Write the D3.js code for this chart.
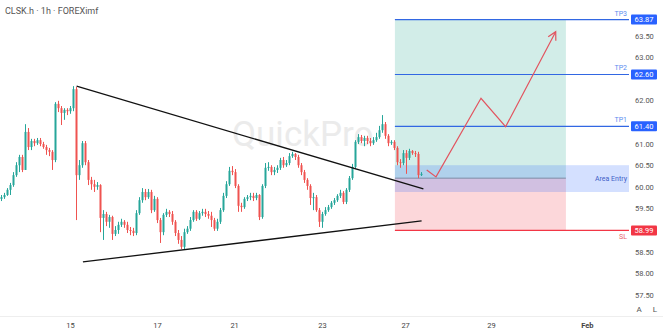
<!DOCTYPE html>
<html><head><meta charset="utf-8">
<script src="https://cdn.jsdelivr.net/npm/d3@7"></script>
<style>
html,body{margin:0;padding:0;background:#fff;}
svg{display:block;font-family:Roboto,"Noto Sans",sans-serif;}
</style></head>
<body><svg id="c" width="663" height="336"></svg>
<script>
// ---- data ----
const title = "CLSK.h · 1h · FOREXimf";
const firstOpen = 59.72;
const closes = [59.76,59.81,59.93,60.04,60.27,60.50,60.69,60.39,61.27,60.92,61.06,61.01,61.08,60.99,60.92,60.85,60.81,60.62,61.92,61.82,61.71,61.78,61.75,61.82,62.26,60.27,60.50,61.01,60.57,60.16,60.06,60.00,60.04,59.28,59.37,59.19,59.30,58.91,59.00,59.12,59.19,59.12,59.00,58.98,58.93,59.39,59.69,59.88,59.76,59.88,59.46,59.72,59.23,58.95,59.35,59.42,59.37,59.19,58.93,58.77,58.61,58.95,59.03,59.23,59.42,59.26,59.39,59.42,59.37,59.33,59.23,59.03,59.19,59.46,59.79,60.06,60.37,60.34,60.02,59.56,59.53,59.72,59.76,59.79,59.74,59.81,59.30,60.02,60.44,60.46,60.34,60.39,60.44,60.62,60.50,60.55,60.71,60.76,60.69,60.50,60.34,60.16,60.02,59.74,59.76,59.46,59.19,59.37,59.46,59.53,59.63,59.69,59.79,59.86,59.65,59.93,60.20,60.46,61.04,61.15,61.06,61.13,61.06,61.01,61.08,61.15,61.31,61.45,61.18,61.01,61.04,60.90,60.57,60.55,60.78,60.67,60.83,60.78,60.76,60.27,60.30];
const highs = [59.81,59.86,59.97,60.09,60.34,60.57,60.74,60.74,61.45,61.36,61.11,61.11,61.13,61.13,61.04,60.97,60.90,60.85,61.96,61.99,61.87,61.82,61.82,61.87,62.33,62.31,60.62,61.06,61.06,60.62,60.23,60.16,60.11,60.06,59.46,59.42,59.35,59.33,59.09,59.19,59.26,59.23,59.19,59.07,59.05,59.46,59.76,59.97,59.95,59.95,59.93,59.79,59.76,59.28,59.39,59.49,59.46,59.44,59.23,59.00,58.86,59.03,59.09,59.30,59.46,59.46,59.44,59.49,59.49,59.44,59.42,59.28,59.26,59.51,59.86,60.13,60.46,60.48,60.41,60.06,59.63,59.76,59.81,59.86,59.86,59.86,59.83,60.06,60.55,60.57,60.50,60.46,60.50,60.67,60.69,60.62,60.78,60.81,60.78,60.74,60.55,60.39,60.20,60.06,59.86,59.81,59.51,59.42,59.53,59.58,59.67,59.74,59.83,59.93,59.90,59.97,60.25,60.53,61.08,61.22,61.20,61.18,61.18,61.13,61.15,61.25,61.41,61.66,61.50,61.22,61.08,61.08,60.94,60.64,60.85,60.85,60.88,60.85,60.83,60.81,60.34];
const lows = [59.67,59.72,59.79,59.81,60.00,60.23,60.34,60.34,60.39,60.85,60.85,60.94,60.97,60.94,60.88,60.74,60.71,60.39,60.57,61.73,61.43,61.55,61.66,61.69,61.75,59.23,60.16,60.44,60.50,60.04,59.93,59.88,59.93,58.95,58.77,59.09,59.05,58.77,58.86,58.91,59.07,59.05,58.93,58.88,58.86,58.88,59.35,59.63,59.69,59.72,59.39,59.42,59.16,58.70,58.88,59.30,59.30,59.12,58.86,58.68,58.56,58.56,58.91,58.98,59.19,59.21,59.23,59.33,59.30,59.26,59.07,58.98,58.98,59.14,59.42,59.74,60.02,60.27,59.97,59.42,59.42,59.49,59.67,59.69,59.67,59.69,59.23,59.26,59.97,60.37,60.27,60.27,60.32,60.39,60.44,60.46,60.50,60.67,60.62,60.44,60.27,60.09,59.93,59.58,59.46,59.42,59.07,59.05,59.33,59.42,59.49,59.58,59.65,59.74,59.60,59.60,59.88,60.16,60.41,60.99,61.01,60.94,60.99,60.94,60.97,61.04,61.11,61.25,61.11,60.94,60.97,60.85,60.50,60.44,60.50,60.30,60.62,60.74,60.69,60.20,60.25];

const priceTicks = [57.5,58,58.5,59,59.5,60,60.5,61,61.5,62,62.5,63,63.5,64];
const dayTickPos = [23,52,77.7,107,134.7,163.3,195.3];
const dayTickLabels = ["15","17","21","23","27","29","Feb"];

const tpLevels = [63.87,62.60,61.40];
const tpNames = ["TP3","TP2","TP1"];
const slLevel = 58.99;
const entryLevel = 60.20;
const entryBand = [60.50,59.88];
const zoneBars = [131.3,188.3];
const pathBars = [141.9,145,160,168.2,184.9];
const pathPrices = [60.39,60.23,62.05,61.39,63.59];
const upperLine = {bars:[25.2,140.8], prices:[62.33,59.95]};
const lowerLine = {bars:[27.3,140.2], prices:[58.26,59.21]};

// ---- scales ----
const svg = d3.select("#c");
const W = 663, H = 336;
const x = d3.scaleLinear().domain([0,140]).range([1,421]);
const y = d3.scaleLinear().domain([57.5,64]).range([294.8,14]);
const plotRight = 629;

const bars = closes.map((c,i)=>({i, o: i===0?firstOpen:closes[i-1], c, h: highs[i], l: lows[i]}));

svg.append("defs").append("clipPath").attr("id","pane")
  .append("rect").attr("x",0).attr("y",0).attr("width",plotRight).attr("height",316);

const pane = svg.append("g").attr("clip-path","url(#pane)");

// watermark
pane.append("text").attr("x",232).attr("y",146).attr("font-size",35)
  .attr("fill","#ebebeb").text("QuickPro");

// zones
const zx0 = x(zoneBars[0]), zx1 = x(zoneBars[1]);
pane.append("rect").attr("x",zx0).attr("y",y(tpLevels[0])).attr("width",zx1-zx0)
  .attr("height",y(entryLevel)-y(tpLevels[0])).attr("fill","rgba(8,153,129,0.18)");
pane.append("rect").attr("x",zx0).attr("y",y(entryLevel)).attr("width",zx1-zx0)
  .attr("height",y(slLevel)-y(entryLevel)).attr("fill","rgba(242,54,69,0.2)");
pane.append("rect").attr("x",zx0).attr("y",y(entryBand[0])).attr("width",plotRight-zx0)
  .attr("height",y(entryBand[1])-y(entryBand[0])).attr("fill","rgba(41,98,255,0.2)");
pane.append("line").attr("x1",zx0).attr("x2",zx1).attr("y1",y(entryLevel)).attr("y2",y(entryLevel))
  .attr("stroke","#7d8ca6").attr("stroke-width",1);

// candles
const cg = pane.append("g");
bars.forEach(b=>{
  const col = b.c >= b.o ? "#26a69a" : "#ef5350";
  const cx = Math.round(x(b.i));
  cg.append("line").attr("x1",cx+0.5).attr("x2",cx+0.5).attr("y1",y(b.h)).attr("y2",y(b.l))
    .attr("stroke",col).attr("stroke-width",1);
  const top = y(Math.max(b.o,b.c)), bot = y(Math.min(b.o,b.c));
  cg.append("rect").attr("x",cx-0.5).attr("y",top).attr("width",2)
    .attr("height",Math.max(1,bot-top)).attr("fill",col);
});

// TP & SL lines
tpLevels.forEach((v,k)=>{
  pane.append("line").attr("x1",zx0).attr("x2",plotRight).attr("y1",y(v)).attr("y2",y(v))
    .attr("stroke","#3267e3").attr("stroke-width",1.2);
  pane.append("text").attr("x",627).attr("y",y(v)-4).attr("text-anchor","end")
    .attr("font-size",7).attr("fill","#5b8def").text(tpNames[k]);
});
pane.append("line").attr("x1",zx0).attr("x2",plotRight).attr("y1",y(slLevel)).attr("y2",y(slLevel))
  .attr("stroke","#f23645").attr("stroke-width",1.2);
pane.append("text").attr("x",627).attr("y",y(slLevel)+9).attr("text-anchor","end")
  .attr("font-size",7).attr("fill","#e8606c").text("SL");
pane.append("text").attr("x",627).attr("y",y(entryLevel)+2.5).attr("text-anchor","end")
  .attr("font-size",7).attr("fill","#3f60c8").text("Area Entry");

// trend lines
[upperLine, lowerLine].forEach(t=>{
  pane.append("line").attr("x1",x(t.bars[0])).attr("y1",y(t.prices[0]))
    .attr("x2",x(t.bars[1])).attr("y2",y(t.prices[1]))
    .attr("stroke","#111").attr("stroke-width",1.3);
});

// projected path
const pts = pathBars.map((b,k)=>[x(b), y(pathPrices[k])]);
pane.append("path").attr("d",d3.line()(pts)).attr("fill","none")
  .attr("stroke","#e2545f").attr("stroke-width",1.2);
const tip = pts[pts.length-1], prev = pts[pts.length-2];
const ang = Math.atan2(tip[1]-prev[1], tip[0]-prev[0]);
const al = 9, spread = 0.5;
pane.append("path").attr("d",d3.line()([
  [tip[0]-al*Math.cos(ang-spread), tip[1]-al*Math.sin(ang-spread)], tip,
  [tip[0]-al*Math.cos(ang+spread), tip[1]-al*Math.sin(ang+spread)]]))
  .attr("fill","none").attr("stroke","#e2545f").attr("stroke-width",1.2);

// price tags (covering the axis labels they sit on, as in the chart)
const tags = tpLevels.map(v=>({v, col:"#2962ff"})).concat([{v:slLevel, col:"#f23645"}]);
const visibleTicks = priceTicks.filter(t => tags.every(g => Math.abs(y(t)-y(g.v)) > 8));

// price axis
const ax = svg.append("g").attr("transform",`translate(${plotRight+6},0)`)
  .call(d3.axisRight(y).tickValues(visibleTicks).tickFormat(d3.format(".2f")).tickSize(0).tickPadding(0));
ax.select(".domain").remove();
ax.selectAll("text").attr("font-size",7.5).attr("fill","#555").attr("font-family","Roboto,sans-serif");

tags.forEach(t=>{
  svg.append("rect").attr("x",631).attr("y",y(t.v)-5).attr("width",26).attr("height",10)
    .attr("rx",1).attr("fill",t.col);
  svg.append("text").attr("x",644).attr("y",y(t.v)+2.6).attr("text-anchor","middle")
    .attr("font-size",7.5).attr("fill","#fff").text(d3.format(".2f")(t.v));
});

// bottom separator & time axis
svg.append("line").attr("x1",0).attr("x2",W).attr("y1",316.5).attr("y2",316.5)
  .attr("stroke","#eeeeee");
const xa = svg.append("g").attr("transform","translate(0,323)")
  .call(d3.axisBottom(x).tickValues(dayTickPos).tickFormat((d,k)=>dayTickLabels[k]).tickSize(0).tickPadding(0));
xa.select(".domain").remove();
xa.selectAll("text").attr("font-size",7.5).attr("fill","#444").attr("font-family","Roboto,sans-serif")
  .attr("font-weight",(d,k)=>dayTickLabels[k]==="Feb"?"bold":"normal");

svg.append("text").attr("x",639).attr("y",312).attr("text-anchor","middle").attr("font-size",8).attr("fill","#555").text("A");
svg.append("text").attr("x",655).attr("y",312).attr("text-anchor","middle").attr("font-size",8).attr("fill","#555").text("L");

// title
svg.append("text").attr("x",5).attr("y",14).attr("font-size",9).attr("fill","#555").text(title);
</script></body></html>
